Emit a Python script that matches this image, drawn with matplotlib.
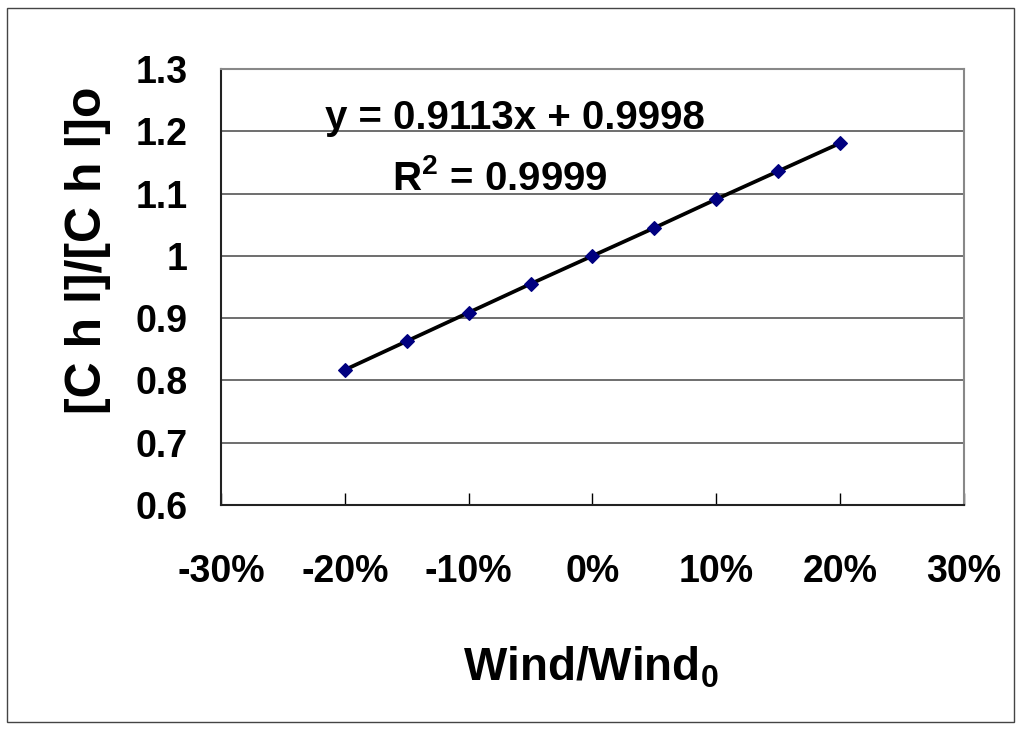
import matplotlib.pyplot as plt
from matplotlib.patches import Rectangle

wind_change = [-0.20, -0.15, -0.10, -0.05, 0.0, 0.05, 0.10, 0.15, 0.20]
chl_ratio = [0.817, 0.863, 0.909, 0.955, 1.000, 1.045, 1.091, 1.136, 1.181]

x_ticks = [-0.3, -0.2, -0.1, 0.0, 0.1, 0.2, 0.3]
x_labels = ["-30%", "-20%", "-10%", "0%", "10%", "20%", "30%"]
y_ticks = [0.6, 0.7, 0.8, 0.9, 1.0, 1.1, 1.2, 1.3]
y_labels = ["0.6", "0.7", "0.8", "0.9", "1", "1.1", "1.2", "1.3"]

plt.rcParams["font.family"] = ["Liberation Sans", "DejaVu Sans"]
plt.rcParams["font.weight"] = "bold"
plt.rcParams["mathtext.fontset"] = "custom"
plt.rcParams["mathtext.rm"] = "Liberation Sans:bold"
plt.rcParams["mathtext.bf"] = "Liberation Sans:bold"

fig = plt.figure(figsize=(10.2, 7.31), dpi=100)
ax = fig.add_axes([221 / 1020, 1 - 505 / 731, (964 - 221) / 1020, (505 - 69) / 731])

# outer frame round the whole chart
fig.patches.append(Rectangle((7 / 1020, 1 - 722 / 731), 1007 / 1020, 714 / 731,
                             transform=fig.transFigure, fill=False,
                             edgecolor="#444444", linewidth=1))

ax.plot(wind_change, chl_ratio, color="black", linewidth=2.7, zorder=3)
ax.scatter(wind_change, chl_ratio, marker="D", s=48, color="#000080", zorder=4)

ax.set_xlim(-0.3, 0.3)
ax.set_ylim(0.6, 1.3)
ax.set_xticks(x_ticks)
ax.set_xticklabels(x_labels, fontsize=27, fontweight="bold")
ax.set_yticks(y_ticks)
ax.set_yticklabels(y_labels, fontsize=27, fontweight="bold")
ax.tick_params(axis="x", direction="in", length=9, width=1, pad=35)
ax.tick_params(axis="y", length=0, pad=24)

ax.grid(axis="y", color="#555555", linewidth=1.2)
ax.set_axisbelow(True)
for side in ["left", "bottom"]:
    ax.spines[side].set_color("#222222")
    ax.spines[side].set_linewidth(1.5)
for side in ["top", "right"]:
    ax.spines[side].set_color("#888888")
    ax.spines[side].set_linewidth(1.5)

ax.text(-0.063, 1.221, "y = 0.9113x + 0.9998", fontsize=29, fontweight="bold",
        ha="center", va="center")
ax.text(-0.075, 1.125, "R$^{2}$ = 0.9999", fontsize=29, fontweight="bold",
        ha="center", va="center")

fig.text(591 / 1020, 1 - 668 / 731, "Wind/Wind$_{0}$", fontsize=33,
         fontweight="bold", ha="center", va="center")
fig.text(88 / 1020, 1 - 250 / 731, "[C h l]/[C h l]o", fontsize=36,
         fontweight="bold", ha="center", va="center", rotation=90)

plt.savefig("out.png", dpi=100)
